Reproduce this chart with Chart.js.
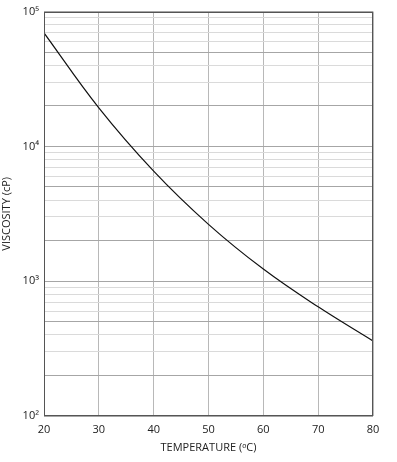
<!DOCTYPE html>
<html>
<head>
<meta charset="utf-8">
<script src="https://cdn.jsdelivr.net/npm/chart.js@4/dist/chart.umd.min.js"></script>
<style>
html,body{margin:0;padding:0;background:#fff;}
#c{display:block;}
</style>
</head>
<body>
<canvas id="c" width="397" height="462"></canvas>
<script>
// Data
const temperatures = [20, 30, 40, 50, 60, 70, 80];
const viscosities = [69500, 19300, 6550, 2640, 1230, 645, 360];

// Tick values
const xTicks = [20, 30, 40, 50, 60, 70, 80];
const yTicks = [100,200,300,400,500,600,700,800,900,
                1000,2000,3000,4000,5000,6000,7000,8000,9000,
                10000,20000,30000,40000,50000,60000,70000,80000,90000,100000];
const yDecadeLabels = {100:'10²', 1000:'10³', 10000:'10⁴', 100000:'10⁵'};

const FONT = "'Open Sans', 'Liberation Sans', sans-serif";

const framePlugin = {
  id: 'frame',
  afterDraw(chart) {
    const {ctx, chartArea: a} = chart;
    ctx.save();
    ctx.strokeStyle = '#555';
    ctx.lineWidth = 1;
    ctx.strokeRect(Math.round(a.left) + 0.5, Math.round(a.top) + 0.5,
                   Math.round(a.right - a.left) - 1, Math.round(a.bottom - a.top) - 1);
    ctx.restore();
  }
};

function isStrong(v) {
  const s = v / Math.pow(10, Math.floor(Math.log10(v) + 1e-9));
  const r = Math.round(s);
  return r === 1 || r === 2 || r === 5;
}

new Chart(document.getElementById('c'), {
  type: 'line',
  data: {
    datasets: [{
      data: temperatures.map((t, i) => ({x: t, y: viscosities[i]})),
      borderColor: '#111',
      borderWidth: 1.2,
      pointRadius: 0,
      fill: false,
      tension: 0.4
    }]
  },
  options: {
    responsive: false,
    animation: false,
    devicePixelRatio: 1,
    layout: {padding: {top: 11, right: 24, left: 0, bottom: 8}},
    plugins: {legend: {display: false}, tooltip: {enabled: false}},
    scales: {
      x: {
        type: 'linear',
        min: 20, max: 80,
        afterBuildTicks(scale) { scale.ticks = xTicks.map(v => ({value: v})); },
        afterFit(scale) { scale.height = 38; },
        grid: {color: '#b8b8b8', lineWidth: 1, drawTicks: false},
        border: {display: false},
        ticks: {
          autoSkip: false, maxRotation: 0, padding: 7,
          color: '#222', font: {family: FONT, size: 11},
          callback: v => String(v)
        },
        title: {
          display: true, text: 'TEMPERATURE (ᵒC)',
          color: '#222', font: {family: FONT, size: 11},
          padding: {top: 1, bottom: 0}
        }
      },
      y: {
        type: 'logarithmic',
        min: 100, max: 100000,
        afterBuildTicks(scale) { scale.ticks = yTicks.map(v => ({value: v})); },
        afterFit(scale) { scale.width = 44; },
        grid: {
          drawTicks: false,
          color: ctx => isStrong(ctx.tick.value) ? '#a6a6a6' : '#dadada',
          lineWidth: 1
        },
        border: {display: false},
        ticks: {
          autoSkip: false, padding: 5,
          color: '#222', font: {family: FONT, size: 11},
          callback: v => yDecadeLabels[v] || ''
        },
        title: {
          display: true, text: 'VISCOSITY (cP)',
          color: '#222', font: {family: FONT, size: 11},
          padding: {top: 0, bottom: 1}
        }
      }
    }
  },
  plugins: [framePlugin]
});
</script>
</body>
</html>
